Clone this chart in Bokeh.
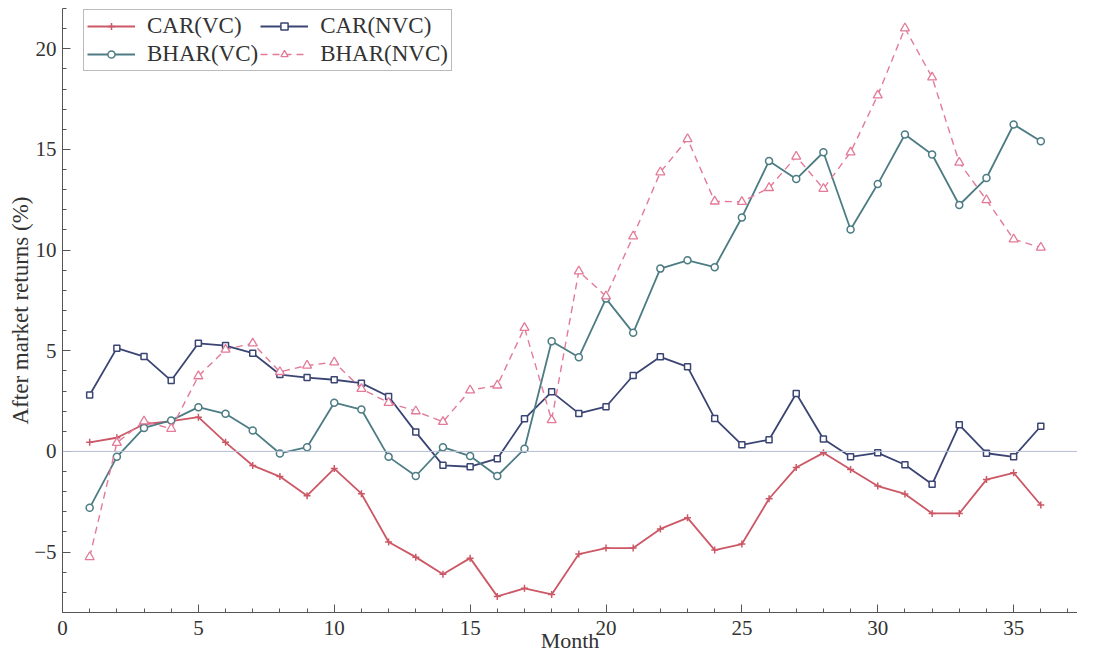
from bokeh.plotting import figure
from bokeh.models import FixedTicker, Span, Legend, LegendItem
from bokeh.embed import file_html
from bokeh.resources import INLINE

months = list(range(1, 37))

car_vc = [0.45, 0.68, 1.35, 1.5, 1.7, 0.45, -0.7, -1.25, -2.2, -0.85, -2.1, -4.5,
          -5.25, -6.1, -5.3, -7.2, -6.8, -7.1, -5.1, -4.8, -4.8, -3.85, -3.3, -4.9,
          -4.6, -2.35, -0.8, -0.07, -0.9, -1.72, -2.11, -3.08, -3.08, -1.4, -1.06, -2.66]

car_nvc = [2.8, 5.13, 4.71, 3.52, 5.37, 5.26, 4.88, 3.82, 3.67, 3.56, 3.39, 2.73,
           0.96, -0.69, -0.76, -0.36, 1.62, 2.96, 1.89, 2.22, 3.77, 4.7, 4.2, 1.64,
           0.33, 0.58, 2.88, 0.62, -0.27, -0.07, -0.66, -1.63, 1.32, -0.09, -0.27, 1.25]

bhar_vc = [-2.8, -0.27, 1.17, 1.54, 2.2, 1.87, 1.04, -0.1, 0.21, 2.42, 2.08, -0.27,
           -1.22, 0.21, -0.23, -1.22, 0.13, 5.47, 4.68, 7.59, 5.89, 9.08, 9.49, 9.15,
           11.62, 14.43, 13.53, 14.86, 11.02, 13.28, 15.74, 14.75, 12.24, 13.58, 16.24, 15.41]

bhar_nvc = [-5.24, 0.43, 1.5, 1.13, 3.74, 5.06, 5.37, 3.95, 4.27, 4.43, 3.11, 2.42,
            2.0, 1.47, 3.04, 3.28, 6.14, 1.56, 8.95, 7.71, 10.69, 13.87, 15.52, 12.42,
            12.4, 13.09, 14.65, 13.05, 14.86, 17.69, 21.02, 18.58, 14.35, 12.49, 10.54, 10.13]

x_major = [0, 5, 10, 15, 20, 25, 30, 35]
y_major = [-5, 0, 5, 10, 15, 20]

FONT = "Liberation Serif"

p = figure(width=1077, height=658, x_range=(0, 37.35), y_range=(-8, 22),
           output_backend="svg", toolbar_location=None,
           min_border_left=62, min_border_right=0, min_border_top=8, min_border_bottom=46)
p.outline_line_color = None
p.xgrid.visible = False
p.ygrid.visible = False

for ax in (p.xaxis[0], p.yaxis[0]):
    ax.axis_line_color = "#555555"
    ax.major_tick_line_color = "#555555"
    ax.minor_tick_line_color = "#555555"
    ax.major_tick_in = 8
    ax.major_tick_out = 0
    ax.minor_tick_in = 4
    ax.minor_tick_out = 0
    ax.major_label_text_font = FONT
    ax.major_label_text_font_size = "21px"
    ax.major_label_text_color = "#333333"
    ax.axis_label_text_font = FONT
    ax.axis_label_text_font_style = "normal"
    ax.axis_label_text_color = "#333333"

p.xaxis[0].ticker = FixedTicker(ticks=x_major, minor_ticks=list(range(0, 39)))
p.yaxis[0].ticker = FixedTicker(ticks=y_major, minor_ticks=list(range(-8, 23)))
p.xaxis[0].major_label_standoff = 8
p.yaxis[0].major_label_standoff = 6
p.yaxis[0].axis_label = "After market returns (%)"
p.yaxis[0].axis_label_text_font_size = "23px"
p.yaxis[0].axis_label_standoff = -2
p.xaxis[0].axis_label = "Month"
p.xaxis[0].axis_label_text_font_size = "22px"
p.xaxis[0].axis_label_standoff = -10

p.add_layout(Span(location=0, dimension="width", line_color="#b4bfd2", line_width=1))

c_car_vc = "#cc5866"
c_car_nvc = "#3b4573"
c_bhar_vc = "#4d7c84"
c_bhar_nvc = "#e27a98"

l1 = p.line(months, car_vc, line_color=c_car_vc, line_width=1.8)
s1 = p.scatter(months, car_vc, marker="cross", size=7, line_color=c_car_vc, line_width=1.5)

l2 = p.line(months, car_nvc, line_color=c_car_nvc, line_width=1.8)
s2 = p.scatter(months, car_nvc, marker="square", size=6, line_color=c_car_nvc,
               fill_color="white", line_width=1.5)

l3 = p.line(months, bhar_vc, line_color=c_bhar_vc, line_width=1.8)
s3 = p.scatter(months, bhar_vc, marker="circle", size=7, line_color=c_bhar_vc,
               fill_color="white", line_width=1.5)

l4 = p.line(months, bhar_nvc, line_color=c_bhar_nvc, line_width=1.4, line_dash="7 5")
s4 = p.scatter(months, bhar_nvc, marker="triangle", size=9, line_color=c_bhar_nvc,
               fill_color="white", line_width=1.3)

legend = Legend(items=[
    LegendItem(label="CAR(VC)", renderers=[l1, s1]),
    LegendItem(label="CAR(NVC)", renderers=[l2, s2]),
    LegendItem(label="BHAR(VC)", renderers=[l3, s3]),
    LegendItem(label="BHAR(NVC)", renderers=[l4, s4]),
], location=(21, 541), orientation="horizontal", ncols=2)
legend.label_text_font = FONT
legend.label_text_font_size = "23px"
legend.label_text_color = "#333333"
legend.border_line_color = "#777777"
legend.border_line_width = 1
legend.glyph_width = 48
legend.glyph_height = 18
legend.label_height = 18
legend.label_standoff = 12
legend.spacing = 2
legend.padding = 3
legend.margin = 0
legend.background_fill_alpha = 1
p.add_layout(legend)

open("out.html", "w").write(file_html(p, INLINE))
